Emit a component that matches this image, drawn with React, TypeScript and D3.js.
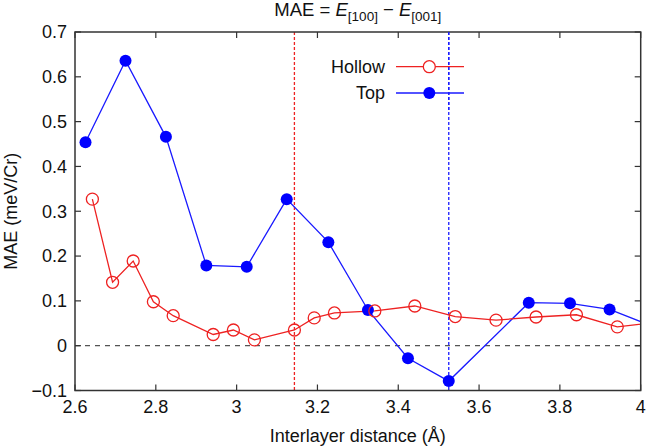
import React from "react";
import * as d3 from "d3";

const hollowX = [2.643, 2.693, 2.744, 2.794, 2.843, 2.942, 2.992, 3.044, 3.143, 3.192, 3.242, 3.342, 3.441, 3.541, 3.642, 3.741, 3.841, 3.942, 4.04];
const hollowY = [0.327, 0.1415, 0.189, 0.098, 0.067, 0.025, 0.035, 0.013, 0.035, 0.062, 0.073, 0.0775, 0.0886, 0.065, 0.057, 0.064, 0.069, 0.042, 0.052];
const topX = [2.626, 2.725, 2.825, 2.925, 3.025, 3.124, 3.227, 3.325, 3.424, 3.525, 3.723, 3.825, 3.923, 4.025];
const topY = [0.454, 0.636, 0.466, 0.179, 0.176, 0.327, 0.231, 0.0797, -0.028, -0.079, 0.096, 0.0946, 0.081, 0.045];
const xTicks = [2.6, 2.8, 3.0, 3.2, 3.4, 3.6, 3.8, 4.0];
const xTickLabels = ["2.6", "2.8", "3", "3.2", "3.4", "3.6", "3.8", "4"];
const yTicks = [-0.1, 0, 0.1, 0.2, 0.3, 0.4, 0.5, 0.6, 0.7];
const yTickLabels = ["\u22120.1", "0", "0.1", "0.2", "0.3", "0.4", "0.5", "0.6", "0.7"];
const vLines = [3.143, 3.525];
const seriesNames = ["Hollow", "Top"];

const W = 646, H = 447;
const L = 75, R = 640.7, T = 32, B = 390.5;
const RED = "#ee2222";
const BLUE = "#1a1aff";
const FONT = "'Liberation Sans', Arial, Helvetica, sans-serif";

export default function App() {
  const x = d3.scaleLinear().domain([2.6, 4]).range([L, R]);
  const y = d3.scaleLinear().domain([-0.1, 0.7]).range([B, T]);
  const line = d3.line<[number, number]>().x(d => x(d[0])).y(d => y(d[1]));
  const hollow: [number, number][] = hollowX.map((v, i) => [v, hollowY[i]]);
  const top: [number, number][] = topX.map((v, i) => [v, topY[i]]);
  const tl = 6;
  return (
    <svg width={W} height={H} style={{ position: "absolute", left: 0, top: 0, background: "#fff" }} fontFamily={FONT}>
      <defs>
        <clipPath id="plot">
          <rect x={L} y={T} width={R - L} height={B - T} />
        </clipPath>
      </defs>
      <rect width={W} height={H} fill="#fff" />
      {/* zero line */}
      <line x1={L} x2={R} y1={y(0)} y2={y(0)} stroke="#555" strokeWidth={1.2} strokeDasharray="5,5" />
      {/* vertical dashed lines */}
      <line x1={x(vLines[0])} x2={x(vLines[0])} y1={T} y2={B} stroke={RED} strokeWidth={1.3} strokeDasharray="3,2" />
      <line x1={x(vLines[1])} x2={x(vLines[1])} y1={T} y2={B} stroke={BLUE} strokeWidth={1.3} strokeDasharray="3,2" />
      <g clipPath="url(#plot)">
        <path d={line(top) || ""} fill="none" stroke={BLUE} strokeWidth={1.3} />
        <path d={line(hollow) || ""} fill="none" stroke={RED} strokeWidth={1.3} />
        {top.map((d, i) => (
          <circle key={"t" + i} cx={x(d[0])} cy={y(d[1])} r={6} fill="#0000ff" />
        ))}
        {hollow.map((d, i) => (
          <circle key={"h" + i} cx={x(d[0])} cy={y(d[1])} r={6} fill="none" stroke={RED} strokeWidth={1.3} />
        ))}
      </g>
      {/* axes frame */}
      <rect x={L} y={T} width={R - L} height={B - T} fill="none" stroke="#333" strokeWidth={1.5} />
      {xTicks.map((t, i) => (
        <g key={"xt" + i}>
          <line x1={x(t)} x2={x(t)} y1={B} y2={B - tl} stroke="#333" strokeWidth={1.2} />
          <line x1={x(t)} x2={x(t)} y1={T} y2={T + tl} stroke="#333" strokeWidth={1.2} />
          <text x={x(t)} y={413} textAnchor="middle" fontSize={18} fill="#111">{xTickLabels[i]}</text>
        </g>
      ))}
      {yTicks.map((t, i) => (
        <g key={"yt" + i}>
          <line x1={L} x2={L + tl} y1={y(t)} y2={y(t)} stroke="#333" strokeWidth={1.2} />
          <line x1={R} x2={R - tl} y1={y(t)} y2={y(t)} stroke="#333" strokeWidth={1.2} />
          <text x={L - 8} y={y(t)} dy="0.35em" textAnchor="end" fontSize={18} fill="#111">{yTickLabels[i]}</text>
        </g>
      ))}
      {/* axis titles */}
      <text x={(L + R) / 2} y={442} textAnchor="middle" fontSize={18} fill="#111">Interlayer distance (Å)</text>
      <text transform={`translate(17,${(T + B) / 2}) rotate(-90)`} textAnchor="middle" fontSize={18} fill="#111">MAE (meV/Cr)</text>
      {/* title */}
      <text x={(L + R) / 2} y={16} textAnchor="middle" fontSize={18.5} fill="#111">
        <tspan>MAE = </tspan>
        <tspan fontStyle="italic">E</tspan>
        <tspan fontSize={13.5} dy={5}>[100]</tspan>
        <tspan dy={-5}> − </tspan>
        <tspan fontStyle="italic">E</tspan>
        <tspan fontSize={13.5} dy={5}>[001]</tspan>
      </text>
      {/* legend */}
      <g>
        <text x={385} y={66.7} dy="0.35em" textAnchor="end" fontSize={18} fill="#111">{seriesNames[0]}</text>
        <line x1={396} x2={464} y1={66.7} y2={66.7} stroke={RED} strokeWidth={1.3} />
        <circle cx={429.3} cy={66.7} r={6} fill="#fff" stroke={RED} strokeWidth={1.3} />
        <text x={385} y={93} dy="0.35em" textAnchor="end" fontSize={18} fill="#111">{seriesNames[1]}</text>
        <line x1={396} x2={464} y1={93} y2={93} stroke={BLUE} strokeWidth={1.3} />
        <circle cx={429.3} cy={93} r={6} fill="#0000ff" />
      </g>
      <line x1={x(vLines[1])} x2={x(vLines[1])} y1={T} y2={110} stroke={BLUE} strokeWidth={1.3} strokeDasharray="3,2" />
    </svg>
  );
}
